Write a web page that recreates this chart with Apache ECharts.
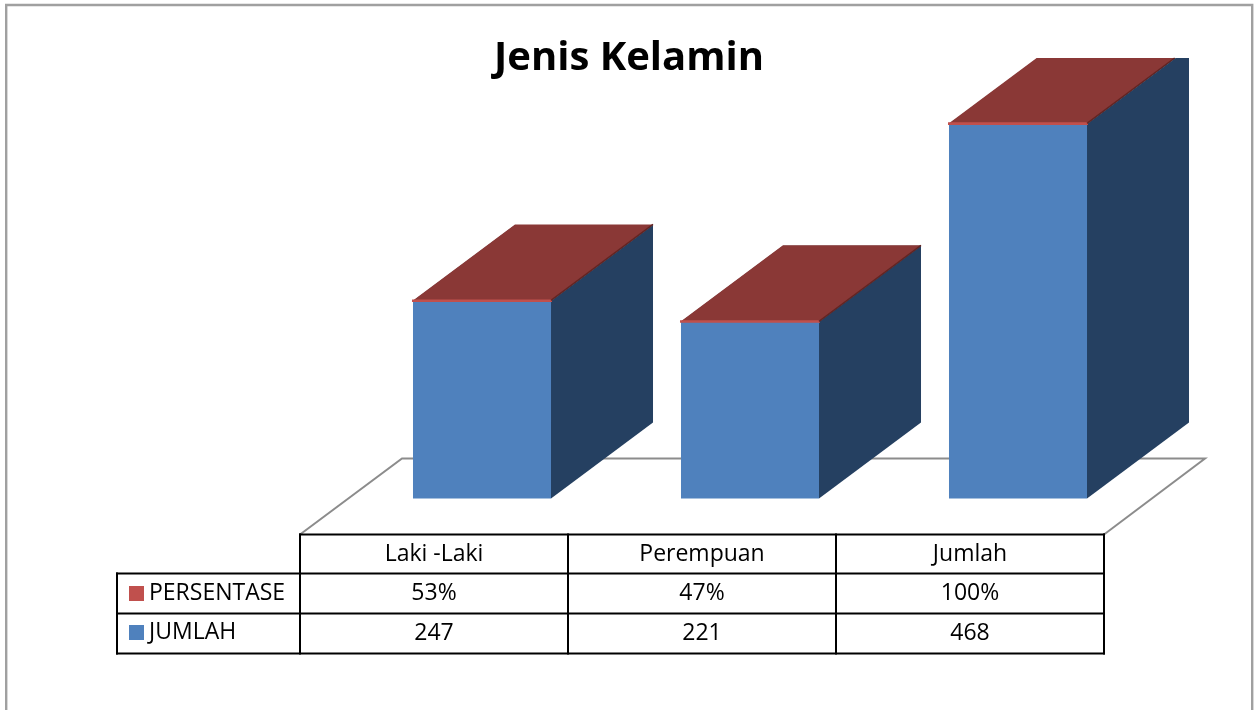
<!DOCTYPE html>
<html>
<head>
<meta charset="utf-8">
<title>Jenis Kelamin</title>
<script src="https://cdn.jsdelivr.net/npm/echarts@6/dist/echarts.min.js"></script>
<style>
html,body{margin:0;padding:0;background:#fff;overflow:hidden;}
#main{width:1256px;height:710px;}
</style>
</head>
<body>
<div id="main"></div>
<script>
var categories = ['Laki -Laki', 'Perempuan', 'Jumlah'];
var jumlah = [247, 221, 468];
var persentase = [0.53, 0.47, 1];

var fontName = '"Open Sans", sans-serif';
var tableLeft = 117, tableX = 300, colW = 268;
var rowY = [534.5, 573.5, 613.5, 653.5];
var depthX = 102, depthY = -76;

// cut a polygon at the top of the grid (the tallest bar runs out of the plot area)
function clipTop(pts, top) {
    var out = [];
    for (var i = 0; i < pts.length; i++) {
        var a = pts[i], b = pts[(i + 1) % pts.length];
        if (a[1] >= top) out.push(a);
        if ((a[1] >= top) !== (b[1] >= top)) {
            var t = (top - a[1]) / (b[1] - a[1]);
            out.push([a[0] + (b[0] - a[0]) * t, top]);
        }
    }
    return out;
}

function makeBar(frontColor, sideColor, topColor, isTop) {
    return function (params, api) {
        var top = params.coordSys.y - 0.5;
        var w = api.size([1, 0])[0] * 0.515;
        var p0 = api.coord([api.value(0), api.value(1)]);
        var p1 = api.coord([api.value(0), api.value(2)]);
        var l = p0[0] - w / 2, r = p0[0] + w / 2;
        var y0 = p0[1], y1 = p1[1];
        var children = [
            {
                type: 'polygon',
                shape: { points: clipTop([[r, y0], [r + depthX, y0 + depthY], [r + depthX, y1 + depthY], [r, y1]], top) },
                style: { fill: sideColor }
            },
            {
                type: 'polygon',
                shape: { points: clipTop([[l, y1], [r, y1], [r + depthX, y1 + depthY], [l + depthX, y1 + depthY]], top) },
                style: { fill: topColor }
            },
            {
                type: 'polygon',
                shape: { points: [[l, y0], [r, y0], [r, y1], [l, y1]] },
                style: isTop ? { fill: frontColor, stroke: frontColor, lineWidth: 2 } : { fill: frontColor }
            }
        ];
        if (isTop) {
            var dt = (top - y1) / depthY;
            var k = Math.min(1, dt);
            children.push({
                type: 'line',
                shape: { x1: r, y1: y1, x2: r + depthX * k, y2: y1 + depthY * k },
                style: { stroke: '#632523', lineWidth: 1.5 }
            });
        }
        return { type: 'group', children: children };
    };
}

var jumlahData = jumlah.map(function (v, i) { return [i, 0, v]; });
var persenData = persentase.map(function (v, i) { return [i, jumlah[i], jumlah[i] + v]; });

// frame, floor and data table
var graphics = [
    { type: 'rect', shape: { x: 6.2, y: 5, width: 1246, height: 800 }, style: { fill: 'none', stroke: '#a0a0a0', lineWidth: 2.4 } },
    { type: 'polyline', shape: { points: [[tableX, rowY[0]], [402, 458.5], [1205, 458.5], [tableX + colW * 3, rowY[0]]] }, style: { fill: 'none', stroke: '#8c8c8c', lineWidth: 2 } }
];
function hLine(x1, x2, y) {
    graphics.push({ type: 'line', shape: { x1: x1, y1: y, x2: x2, y2: y }, style: { stroke: '#000', lineWidth: 2, lineCap: 'square' } });
}
function vLine(x, y1, y2) {
    graphics.push({ type: 'line', shape: { x1: x, y1: y1, x2: x, y2: y2 }, style: { stroke: '#000', lineWidth: 2, lineCap: 'square' } });
}
function cell(text, col, row) {
    graphics.push({
        type: 'text',
        x: tableX + colW * (col + 0.5),
        y: (rowY[row] + rowY[row + 1]) / 2,
        style: { text: text, font: '23px ' + fontName, fill: '#000', align: 'center', verticalAlign: 'middle' }
    });
}
hLine(tableX, tableX + colW * 3, rowY[0]);
hLine(tableLeft, tableX + colW * 3, rowY[1]);
hLine(tableLeft, tableX + colW * 3, rowY[2]);
hLine(tableLeft, tableX + colW * 3, rowY[3]);
vLine(tableLeft, rowY[1], rowY[3]);
for (var c = 0; c <= categories.length; c++) {
    vLine(tableX + colW * c, rowY[0], rowY[3]);
}
categories.forEach(function (name, i) {
    cell(name, i, 0);
    cell(Math.round(persentase[i] * 100) + '%', i, 1);
    cell(String(jumlah[i]), i, 2);
});

var option = {
    backgroundColor: '#fff',
    animation: false,
    title: {
        text: 'Jenis Kelamin',
        left: 624,
        top: 34,
        textAlign: 'center',
        textStyle: { fontFamily: fontName, fontSize: 40, fontWeight: 'bold', color: '#000' }
    },
    legend: {
        data: ['PERSENTASE', 'JUMLAH'],
        orient: 'vertical',
        left: 129,
        top: 582,
        icon: 'rect',
        itemWidth: 15,
        itemHeight: 15,
        itemGap: 16,
        padding: 0,
        textStyle: { fontFamily: fontName, fontSize: 23, color: '#000', padding: [0, 0, 8, 0] }
    },
    grid: { left: 348, top: 58.5, width: 804, height: 440 },
    xAxis: { type: 'category', data: categories, show: false },
    yAxis: { type: 'value', min: 0, max: 550, show: false },
    graphic: { elements: graphics },
    series: [
        {
            name: 'JUMLAH',
            type: 'custom',
            clip: false,
            itemStyle: { color: '#4f81bd' },
            encode: { x: 0, y: 2 },
            renderItem: makeBar('#4f81bd', '#254061', '#254061', false),
            data: jumlahData
        },
        {
            name: 'PERSENTASE',
            type: 'custom',
            clip: false,
            itemStyle: { color: '#c0504d' },
            encode: { x: 0, y: 2 },
            renderItem: makeBar('#c0504d', '#254061', '#8a3836', true),
            data: persenData
        }
    ]
};

var myChart = echarts.init(document.getElementById('main'));
myChart.setOption(option);
window.addEventListener('resize', function () {
    myChart.resize();
});
</script>
</body>
</html>
